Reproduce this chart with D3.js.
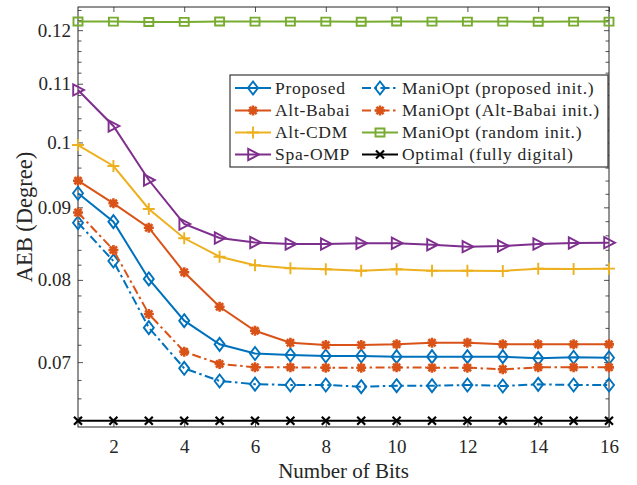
<!DOCTYPE html>
<html>
<head>
<meta charset="utf-8">
<script src="https://cdn.jsdelivr.net/npm/d3@7"></script>
<style>
  html, body { margin: 0; padding: 0; background: #fff; }
  svg { display: block; }
  text { font-family: "Liberation Serif", "Times New Roman", serif; fill: #262626; }
</style>
</head>
<body>
<svg id="chart" width="637" height="485"></svg>
<script>
// Number of quantization bits
const bits = d3.range(1, 17);

// AEB (degree) for each method
const proposed      = [0.09208, 0.08793, 0.08012, 0.07487, 0.07205, 0.07099, 0.07081, 0.07070, 0.07070, 0.07062, 0.07062, 0.07062, 0.07062, 0.07043, 0.07055, 0.07050];
const altBabai      = [0.09398, 0.09059, 0.08707, 0.08099, 0.07659, 0.07365, 0.07224, 0.07197, 0.07197, 0.07205, 0.07224, 0.07224, 0.07205, 0.07205, 0.07205, 0.07205];
const altCDM        = [0.09958, 0.09625, 0.08976, 0.08559, 0.08307, 0.08192, 0.08152, 0.08139, 0.08120, 0.08139, 0.08120, 0.08120, 0.08117, 0.08147, 0.08143, 0.08147];
const spaOMP        = [0.10890, 0.10271, 0.09408, 0.08760, 0.08563, 0.08501, 0.08480, 0.08480, 0.08490, 0.08490, 0.08470, 0.08443, 0.08452, 0.08480, 0.08494, 0.08498];
const maniProposed  = [0.08778, 0.08249, 0.07403, 0.06930, 0.06789, 0.06754, 0.06745, 0.06745, 0.06726, 0.06737, 0.06737, 0.06745, 0.06734, 0.06752, 0.06745, 0.06745];
const maniBabai     = [0.08925, 0.08398, 0.07569, 0.07120, 0.06979, 0.06942, 0.06941, 0.06937, 0.06937, 0.06941, 0.06937, 0.06937, 0.06919, 0.06941, 0.06941, 0.06941];
const maniRandom    = [0.12170, 0.12168, 0.12160, 0.12162, 0.12170, 0.12168, 0.12168, 0.12168, 0.12166, 0.12170, 0.12168, 0.12168, 0.12168, 0.12166, 0.12168, 0.12168];
const optimal       = [0.06365, 0.06365, 0.06365, 0.06365, 0.06365, 0.06365, 0.06365, 0.06365, 0.06365, 0.06365, 0.06365, 0.06365, 0.06365, 0.06365, 0.06365, 0.06365];

// Axis ticks
const xTicks = [2, 4, 6, 8, 10, 12, 14, 16];
const yTicks = [0.07, 0.08, 0.09, 0.1, 0.11, 0.12];
const yTickLabels = ["0.07", "0.08", "0.09", "0.1", "0.11", "0.12"];
const yMinorTicks = d3.range(32, 63).map(k => k * 0.002).filter(v => !yTicks.some(t => Math.abs(t - v) < 1e-9));

const series = [
  { name: "Proposed",                    values: proposed,     color: "#0072BD", dash: null,         marker: "diamond" },
  { name: "Alt-Babai",                   values: altBabai,     color: "#D95319", dash: null,         marker: "asterisk" },
  { name: "Alt-CDM",                     values: altCDM,       color: "#EDB120", dash: null,         marker: "plus" },
  { name: "Spa-OMP",                     values: spaOMP,       color: "#7E2F8E", dash: null,         marker: "triangle" },
  { name: "ManiOpt (proposed init.)",    values: maniProposed, color: "#0072BD", dash: "9,3.5,2.5,3.5", marker: "diamond" },
  { name: "ManiOpt (Alt-Babai init.)",   values: maniBabai,    color: "#D95319", dash: "9,3.5,2.5,3.5", marker: "asterisk" },
  { name: "ManiOpt (random init.)",      values: maniRandom,   color: "#77AC30", dash: null,         marker: "square" },
  { name: "Optimal (fully digital)",     values: optimal,      color: "#000000", dash: null,         marker: "cross" }
];

const svg = d3.select("#chart");
const plotL = 78, plotR = 609, plotT = 7, plotB = 427;

const x = d3.scaleLinear().domain([1, 16]).range([plotL, plotR]);
const y = d3.scaleLog().domain([0.063, 0.1246]).range([plotB, plotT]);

const axisColor = "#262626";

// Axes with inward ticks (bottom/left labelled, top/right mirrored)
const gx = svg.append("g").attr("transform", `translate(0,${plotB})`)
  .call(d3.axisBottom(x).tickValues(xTicks).tickSize(-5).tickPadding(13).tickFormat(d3.format("d")));
const gxTop = svg.append("g").attr("transform", `translate(0,${plotT})`)
  .call(d3.axisTop(x).tickValues(xTicks).tickSize(-5).tickFormat(""));
const gy = svg.append("g").attr("transform", `translate(${plotL},0)`)
  .call(d3.axisLeft(y).tickValues(yTicks).tickSize(-5).tickPadding(7).tickFormat((d, i) => yTickLabels[i]));
const gyMinor = svg.append("g").attr("transform", `translate(${plotL},0)`)
  .call(d3.axisLeft(y).tickValues(yMinorTicks).tickSize(-3.5).tickFormat(""));
const gyR = svg.append("g").attr("transform", `translate(${plotR},0)`)
  .call(d3.axisRight(y).tickValues(yTicks).tickSize(-5).tickFormat(""));
const gyRMinor = svg.append("g").attr("transform", `translate(${plotR},0)`)
  .call(d3.axisRight(y).tickValues(yMinorTicks).tickSize(-3.5).tickFormat(""));

[gx, gxTop, gy, gyMinor, gyR, gyRMinor].forEach(g => {
  g.selectAll(".domain").remove();
  g.selectAll(".tick line").attr("stroke", axisColor).attr("stroke-width", 0.8);
  g.selectAll(".tick text").attr("font-size", 19).attr("fill", axisColor)
    .style("font-family", '"Liberation Serif", serif');
});

// Box
svg.append("rect").attr("x", plotL).attr("y", plotT)
  .attr("width", plotR - plotL).attr("height", plotB - plotT)
  .attr("fill", "none").attr("stroke", axisColor).attr("stroke-width", 1);

// Marker shapes
function markerPath(type) {
  switch (type) {
    case "diamond":  return "M0,-6.5L5,0L0,6.5L-5,0Z";
    case "triangle": return "M-4.8,-5.6L6,0L-4.8,5.6Z";
    case "square":   return "M-4.5,-4L4.5,-4L4.5,4L-4.5,4Z";
    case "plus":     return "M-6,0L6,0M0,-6L0,6";
    case "asterisk": return "M-5,0L5,0M0,-5L0,5M-3.6,-3.6L3.6,3.6M-3.6,3.6L3.6,-3.6";
    case "cross":    return "M-4,-4L4,4M-4,4L4,-4";
  }
}
function markerStroke(type) {
  return type === "asterisk" ? 2.6 : (type === "cross" ? 2.2 : 1.9);
}

const line = d3.line().x((d, i) => x(bits[i])).y(d => y(d));

const plot = svg.append("g");
series.forEach(s => {
  const g = plot.append("g");
  g.append("path").datum(s.values)
    .attr("d", line).attr("fill", "none")
    .attr("stroke", s.color).attr("stroke-width", 2)
    .attr("stroke-dasharray", s.dash);
  g.selectAll("path.mk").data(s.values).enter().append("path")
    .attr("class", "mk")
    .attr("transform", (d, i) => `translate(${x(bits[i])},${y(d)})`)
    .attr("d", markerPath(s.marker))
    .attr("fill", s.marker === "asterisk" ? s.color : "none")
    .attr("stroke", s.color).attr("stroke-width", markerStroke(s.marker));
});

// Axis titles
svg.append("text").attr("x", (plotL + plotR) / 2).attr("y", 478)
  .attr("text-anchor", "middle").attr("font-size", 21).text("Number of Bits");
svg.append("text")
  .attr("transform", `translate(32,${(plotT + plotB) / 2}) rotate(-90)`)
  .attr("text-anchor", "middle").attr("font-size", 22.5).text("AEB (Degree)");

// Legend
const lg = svg.append("g");
const lgX = 230, lgY = 75, lgW = 378, lgH = 92;
lg.append("rect").attr("x", lgX).attr("y", lgY).attr("width", lgW).attr("height", lgH)
  .attr("fill", "#fff").attr("stroke", axisColor).attr("stroke-width", 1.1);
const rowY = [88, 110.5, 132.5, 154.5];
const colX = [235, 362];
series.forEach((s, i) => {
  const col = i < 4 ? 0 : 1, row = i % 4;
  const x0 = colX[col], yy = rowY[row];
  const item = lg.append("g");
  item.append("line").attr("x1", x0).attr("x2", x0 + 36).attr("y1", yy).attr("y2", yy)
    .attr("stroke", s.color).attr("stroke-width", 2).attr("stroke-dasharray", s.dash);
  item.append("path").attr("transform", `translate(${x0 + 18},${yy})`)
    .attr("d", markerPath(s.marker))
    .attr("fill", s.marker === "asterisk" ? s.color : "none")
    .attr("stroke", s.color).attr("stroke-width", markerStroke(s.marker));
  item.append("text").attr("x", x0 + 40).attr("y", yy + 5.5)
    .attr("font-size", 17.5).attr("letter-spacing", 0.7).attr("fill", "#000").text(s.name);
});
</script>
</body>
</html>
